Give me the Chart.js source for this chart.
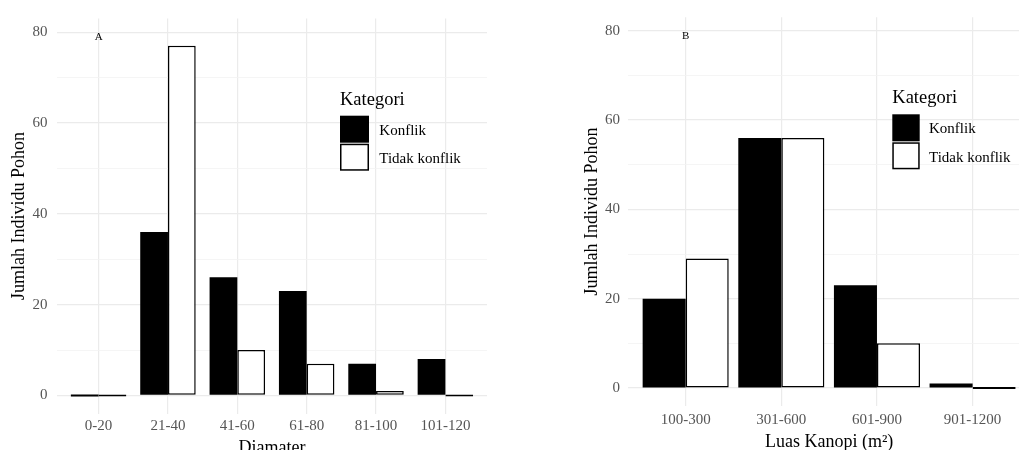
<!DOCTYPE html>
<html>
<head>
<meta charset="utf-8">
<script src="https://cdn.jsdelivr.net/npm/chart.js@4.4.0/dist/chart.umd.min.js"></script>
<style>
  html, body { margin: 0; padding: 0; width: 1019px; height: 450px; overflow: hidden; background: #fff; }
  canvas { position: absolute; top: 0; }
  #chartA { left: 0; }
  #chartB { left: 510px; }
</style>
</head>
<body>
<canvas id="chartA" width="510" height="460"></canvas>
<canvas id="chartB" width="530" height="460"></canvas>
<script>
// data
const seriesNames = ['Konflik', 'Tidak konflik'];
const diameterLabels = ['0-20', '21-40', '41-60', '61-80', '81-100', '101-120'];
const diameterKonflik = [0, 36, 26, 23, 7, 8];
const diameterTidak = [0, 77, 10, 7, 1, 0];
const kanopiLabels = ['100-300', '301-600', '601-900', '901-1200'];
const kanopiKonflik = [20, 56, 23, 1];
const kanopiTidak = [29, 56, 10, 0];
const yGridValues = [0, 10, 20, 30, 40, 50, 60, 70, 80];
const yTickLabels = [0, 20, 40, 60, 80];

const SERIF = '"Liberation Serif", "Times New Roman", serif';

// panel letter + legend drawn inside the plot area
const panelExtras = {
  id: 'panelExtras',
  afterDraw(chart, args, opts) {
    const ctx = chart.ctx;
    const x = chart.scales.x, y = chart.scales.y;
    ctx.save();
    ctx.fillStyle = '#000';
    ctx.font = '11px ' + SERIF;
    ctx.textAlign = 'center';
    ctx.textBaseline = 'middle';
    ctx.fillText(opts.letter, x.getPixelForValue(0), y.getPixelForValue(78.8));

    const L = opts.legend;
    ctx.textAlign = 'left';
    ctx.textBaseline = 'alphabetic';
    ctx.fillStyle = '#000';
    ctx.font = '18.5px ' + SERIF;
    ctx.fillText('Kategori', L.x, L.titleBase);
    ctx.fillStyle = '#000';
    ctx.fillRect(L.x, L.box1, L.w, L.h);
    ctx.fillStyle = '#fff';
    ctx.fillRect(L.x, L.box2, L.w, L.h);
    ctx.strokeStyle = '#000';
    ctx.lineWidth = 1.5;
    ctx.strokeRect(L.x + 0.75, L.box2 + 0.75, L.w - 1.5, L.h - 1.5);
    ctx.fillStyle = '#000';
    ctx.font = '15px ' + SERIF;
    ctx.fillText(seriesNames[0], L.textX, L.base1);
    ctx.fillText(seriesNames[1], L.textX, L.base2);
    ctx.restore();
  }
};

function makeChart(id, labels, konflik, tidak, cfg) {
  const toPoints = arr => arr.map((v, i) => ({ x: i, y: v }));
  return new Chart(document.getElementById(id), {
    type: 'bar',
    data: {
      datasets: [{
        label: seriesNames[0],
        data: toPoints(konflik),
        backgroundColor: '#000',
        borderColor: '#000',
        borderWidth: 0,
        minBarLength: 2
      }, {
        label: seriesNames[1],
        data: toPoints(tidak),
        backgroundColor: '#fff',
        borderColor: '#000',
        borderWidth: 1.5,
        borderSkipped: false,
        minBarLength: 2
      }]
    },
    options: {
      responsive: false,
      animation: false,
      devicePixelRatio: 1,
      categoryPercentage: cfg.barWidth,
      barPercentage: 1,
      layout: { padding: { left: 0, top: cfg.padTop, right: cfg.padRight, bottom: 0 } },
      plugins: {
        legend: { display: false },
        tooltip: { enabled: false },
        panelExtras: { letter: cfg.letter, legend: cfg.legend }
      },
      scales: {
        x: {
          type: 'linear',
          offset: false,
          min: -0.6,
          max: labels.length - 0.4,
          afterBuildTicks: s => { s.ticks = labels.map((_, i) => ({ value: i })); },
          afterFit: s => { s.height = cfg.xHeight; },
          ticks: {
            callback: v => labels[v],
            autoSkip: false,
            maxRotation: 0,
            padding: cfg.xTickPad,
            color: '#555',
            font: { family: SERIF, size: 15 }
          },
          grid: { color: '#ebebeb', lineWidth: 1.2, drawTicks: false, offset: false },
          border: { display: false },
          title: {
            display: true,
            text: cfg.xTitle,
            color: '#000',
            font: { family: SERIF, size: 18 },
            padding: { top: 0, bottom: cfg.xTitlePad }
          }
        },
        y: {
          min: -4,
          max: 83,
          afterBuildTicks: s => { s.ticks = yGridValues.map(v => ({ value: v })); },
          afterFit: s => { s.width = cfg.chartLeft; },
          ticks: {
            callback: v => yTickLabels.includes(v) ? String(v) : '',
            padding: cfg.yTickPad,
            color: '#555',
            font: { family: SERIF, size: 15 }
          },
          grid: {
            color: c => (c.tick && c.tick.value % 20 === 0) ? '#ebebeb' : '#f3f3f3',
            lineWidth: c => (c.tick && c.tick.value % 20 === 0) ? 1.2 : 0.8,
            drawTicks: false
          },
          border: { display: false },
          title: {
            display: true,
            text: 'Jumlah Individu Pohon',
            color: '#000',
            font: { family: SERIF, size: 18 },
            padding: { top: cfg.yTitlePad, bottom: 0 }
          }
        }
      }
    },
    plugins: [panelExtras]
  });
}

makeChart('chartA', diameterLabels, diameterKonflik, diameterTidak, {
  letter: 'A',
  barWidth: 0.8,
  chartLeft: 57,
  padRight: 23,
  padTop: 9,
  xHeight: 46.4,
  xTickPad: 3.5,
  yTickPad: 9.5,
  yTitlePad: 8.5,
  xTitle: 'Diamater',
  xTitlePad: 0.8,
  legend: { x: 340, titleBase: 105.3, box1: 115.7, box2: 143.7, w: 29, h: 27, textX: 379.3, base1: 135, base2: 163 }
});

makeChart('chartB', kanopiLabels, kanopiKonflik, kanopiTidak, {
  letter: 'B',
  barWidth: 0.9,
  chartLeft: 118.3,
  padRight: 10,
  padTop: 11,
  xHeight: 54.1,
  xTickPad: 5,
  yTickPad: 8.3,
  yTitlePad: 71.2,
  xTitle: 'Luas Kanopi (m\u00B2)',
  xTitlePad: 6.5,
  legend: { x: 382.3, titleBase: 103.3, box1: 114.3, box2: 142.3, w: 27.4, h: 27, textX: 419, base1: 133.3, base2: 161.7 }
});
</script>
</body>
</html>
